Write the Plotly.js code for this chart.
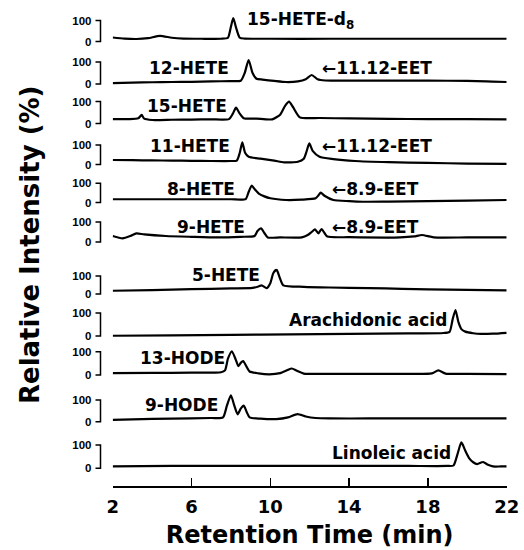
<!DOCTYPE html>
<html>
<head>
<meta charset="utf-8">
<script src="https://cdn.plot.ly/plotly-3.0.1.min.js"></script>
<style>
html,body{margin:0;padding:0;background:#fff;}
#chart{width:524px;height:550px;}
</style>
</head>
<body>
<div id="chart"></div>
<script>
// ---- data (retention time in min, relative intensity in %) ----
const compounds = ["15-HETE-d8","12-HETE","15-HETE","11-HETE","8-HETE","9-HETE","5-HETE","Arachidonic acid","13-HODE","9-HODE","Linoleic acid"];

const t_15HETEd8 = [2,2.6,3.2,3.8,4.4,5.0,5.6,6.5,7.5,7.85,8.0,8.12,8.25,8.45,8.7,10,13,16,19,22];
const i_15HETEd8 = [19,14,12,16,27,18,14,13,13,18,70,112,70,18,14,13,13,13,13,13];

const t_12HETE = [2,3,4,5,6,7,8,8.5,8.7,8.9,9.1,9.3,9.6,10.2,10.8,11.4,11.8,12.1,12.4,12.8,14,16,18,20,22];
const i_12HETE = [4,6,8,9,10,12,13,15,50,109,50,24,20,14,9,12,22,41,22,16,15,15,15,14,9];

const t_15HETE = [2,2.8,3.3,3.47,3.6,4,5,6,7,7.9,8.1,8.26,8.45,8.65,9.3,10.1,10.5,10.75,10.95,11.15,11.5,12.5,14,16,18,20,22];
const i_15HETE = [20,20,24,39,22,16,17,18,19,20,45,72,45,24,22,19,40,80,99,75,28,25,23,21,20,20,19];

const t_11HETE = [2,3,4,5,6,7,8,8.3,8.45,8.58,8.72,8.9,9.5,10.2,10.7,11.4,11.7,11.85,11.98,12.15,12.5,13.2,14.3,16,18,20,22];
const i_11HETE = [23,22,21,20,19,18,18,20,60,114,60,40,30,20,11,14,30,70,108,70,40,28,18,12,8,5,3];

const t_8HETE = [2,4,6,8,8.75,8.9,9.06,9.2,9.4,9.7,10,10.8,11.6,12.3,12.45,12.56,12.75,13.2,14,14.7,16,18,20,22];
const i_8HETE = [17,17,17,17,18,55,88,70,48,32,22,13,15,22,38,51,35,13,7,4,5,7,10,13];

const t_9HETE = [2,2.5,2.9,3.2,3.6,4.7,6,7.3,8.5,9.2,9.35,9.53,9.7,9.87,10.5,11.6,11.9,12.1,12.27,12.44,12.6,12.75,12.9,14,16.6,17.3,17.7,18.3,20,22];
const i_9HETE = [30,18,30,43,38,30,26,23,26,30,55,68,45,23,23,23,35,50,63,43,65,45,27,24,23,28,35,23,23,23];

const t_5HETE = [2,4,6,8,9.1,9.4,9.56,9.82,10.0,10.15,10.32,10.48,10.66,11.7,13,15,16.7,18,20,22];
const i_5HETE = [18,22,27,31,34,42,48,33,60,115,135,90,48,40,36,33,29,26,23,20];

const t_AA = [2,5,8,11,14,17,18.8,19.1,19.25,19.4,19.55,19.7,19.9,20.3,20.7,21.3,22];
const i_AA = [1,3,5,7,9,11,13,18,70,113,60,30,19,12,9,10,14];

const t_13HODE = [2,4,6,7.5,7.7,7.85,8.05,8.25,8.38,8.5,8.62,8.8,8.95,9.4,9.95,10.5,10.85,11.09,11.35,11.7,13,15,17,18.2,18.53,18.9,20,22];
const i_13HODE = [8,9,10,12,20,70,102,65,38,52,60,35,15,7,3,8,20,28,18,6,5,5,5,7,20,6,5,4];

const t_9HODE = [2,3,5,7,7.6,7.8,8.0,8.17,8.34,8.5,8.65,8.8,8.95,9.5,10.3,10.9,11.38,11.8,12.3,13,15,18,20,22];
const i_9HODE = [8,11,14,17,20,75,122,75,34,60,74,45,20,14,12,20,35,24,17,15,15,15,15,15];

const t_LA = [2,5,8,11,14,17,19.0,19.3,19.5,19.7,19.9,20.1,20.3,20.5,20.8,21.05,21.3,21.7,22];
const i_LA = [8,10,10,10,10,10,10,12,60,111,75,43,26,18,27,15,8,8,8];

const xTicks = [2,6,10,14,18,22];
const yTicks = [0,100];
const yTickText = ["0","100"];

const labelTexts = [
  ["15-HETE-d<sub>8</sub>"],
  ["12-HETE","\u219011.12-EET"],
  ["15-HETE"],
  ["11-HETE","\u219011.12-EET"],
  ["8-HETE","\u21908.9-EET"],
  ["9-HETE","\u21908.9-EET"],
  ["5-HETE"],
  ["Arachidonic acid"],
  ["13-HODE"],
  ["9-HODE"],
  ["Linoleic acid"]
];

const series = [
  [t_15HETEd8,i_15HETEd8],[t_12HETE,i_12HETE],[t_15HETE,i_15HETE],[t_11HETE,i_11HETE],
  [t_8HETE,i_8HETE],[t_9HETE,i_9HETE],[t_5HETE,i_5HETE],[t_AA,i_AA],
  [t_13HODE,i_13HODE],[t_9HODE,i_9HODE],[t_LA,i_LA]
];

// ---- layout geometry (pixels in the 524x550 page) ----
const W = 524, H = 550;
const px100 = [20.5,62,101.5,145,183.3,222,276,313,351.7,400,445];
const px0   = [41.5,84,123.5,164.5,202.5,242,294,336,375,421.7,468.3];
const labelPos = [ // [left px, center y px] for each label of each panel
  [[245,20]],
  [[147,68],[320,68]],
  [[145,106]],
  [[148,146],[320,146]],
  [[165,189],[330,189]],
  [[175,227],[330,227]],
  [[190,275]],
  [[287,320]],
  [[138,358]],
  [[143,405]],
  [[330,453]]
];
const yMin = -25, yMax = 140;
const axisXpx = 100.5;   // x of the vertical bracket line
const bracketTick = 5;   // length of the bracket ends
const xLeft = 112.7, xRight = 506.7, xAxisY = 486;

const fx = p => p / W;
const fy = p => 1 - p / H;

const traces = [];
const shapes = [];
const annotations = [];
const layout = {
  width: W, height: H,
  margin: {l:0, r:0, t:0, b:0},
  paper_bgcolor: "#fff", plot_bgcolor: "rgba(0,0,0,0)",
  showlegend: false,
  font: {family: "DejaVu Sans", color: "#000"},
  xaxis: {
    range: [2,22], domain: [fx(xLeft), fx(xRight)],
    anchor: "free", position: fy(xAxisY),
    showline: true, linecolor: "#000", linewidth: 1.5,
    ticks: "inside", ticklen: 8, tickwidth: 1.5, tickcolor: "#000",
    tickvals: xTicks, ticktext: xTicks.map(String),
    tickfont: {family: "DejaVu Sans", size: 18, weight: "bold", color: "#000"},
    ticklabelstandoff: 4,
    showgrid: false, zeroline: false, fixedrange: true,
    title: {text: "Retention Time (min)", font: {family: "DejaVu Sans", size: 24, weight: "bold", color: "#000"}, standoff: 10}
  }
};

series.forEach((s, k) => {
  const n = k + 1;
  const yname = n === 1 ? "y" : "y" + n;
  const axKey = n === 1 ? "yaxis" : "yaxis" + n;
  const kpx = (px0[k] - px100[k]) / 100;
  const bottom = px0[k] + (0 - yMin) * kpx;
  const top = px100[k] - (yMax - 100) * kpx;
  layout[axKey] = {
    domain: [fy(bottom), fy(top)],
    range: [yMin, yMax],
    anchor: "free", position: fx(axisXpx),
    showline: false, showgrid: false, zeroline: false, fixedrange: true,
    ticks: "", tickvals: yTicks, ticktext: yTickText,
    ticklabelstandoff: 9,
    tickfont: {family: "Liberation Sans", size: 11.5, weight: "bold", color: "#000"}
  };
  // bracket drawn in page coordinates: top end, vertical, bottom end
  const xa = fx(axisXpx), xb = fx(axisXpx - bracketTick);
  const ya = fy(px100[k]), yb = fy(px0[k]);
  shapes.push({type: "path", xref: "paper", yref: "paper", layer: "above",
    path: "M " + xb + " " + ya + " L " + xa + " " + ya + " L " + xa + " " + yb + " L " + xb + " " + yb,
    line: {color: "#000", width: 1.5}});
  traces.push({
    type: "scatter", mode: "lines", x: s[0], y: s[1],
    xaxis: "x", yaxis: yname, name: compounds[k],
    line: {color: "#000", width: 2.2, shape: "spline", smoothing: 0.6},
    hoverinfo: "skip"
  });
  labelTexts[k].forEach((txt, j) => {
    annotations.push({
      text: txt, xref: "paper", yref: "paper",
      x: fx(labelPos[k][j][0]), y: fy(labelPos[k][j][1]),
      xanchor: "left", yanchor: "middle", showarrow: false,
      font: {family: "DejaVu Sans", size: 17, weight: "bold", color: "#000"}
    });
  });
});

annotations.push({
  text: "Relative Intensity (%)", xref: "paper", yref: "paper",
  x: fx(30), y: fy(245), xanchor: "center", yanchor: "middle",
  textangle: -90, showarrow: false,
  font: {family: "DejaVu Sans", size: 26, weight: "bold", color: "#000"}
});

layout.shapes = shapes;
layout.annotations = annotations;

Plotly.newPlot("chart", traces, layout, {staticPlot: true, displayModeBar: false});
</script>
</body>
</html>
